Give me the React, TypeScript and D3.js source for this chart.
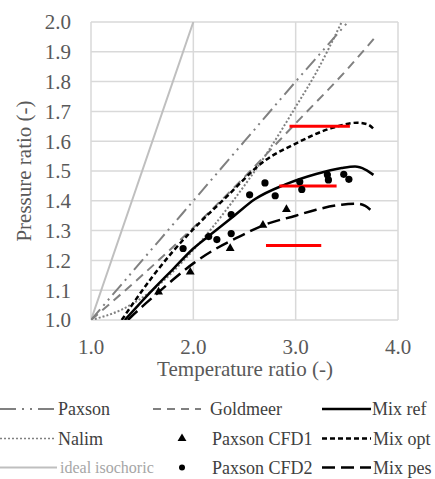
import React from 'react';
import * as d3 from 'd3';

const xTicks = [1.0, 2.0, 3.0, 4.0];
const yTicks = [1.0, 1.1, 1.2, 1.3, 1.4, 1.5, 1.6, 1.7, 1.8, 1.9, 2.0];

const idealIsochoric: [number, number][] = [[1.0, 1.0], [2.0, 2.0]];
const paxson: [number, number][] = [[1.0, 1.0], [1.5, 1.2], [2.0, 1.4], [2.5, 1.6], [3.0, 1.8], [3.51, 2.0]];
const goldmeer: [number, number][] = [[1.0, 1.0], [1.5, 1.15], [2.0, 1.31], [2.5, 1.48], [3.0, 1.66], [3.5, 1.84], [3.78, 1.95]];
const nalim: [number, number][] = [[1.0, 1.0], [1.3, 1.035], [1.6, 1.1], [2.0, 1.235], [2.4, 1.405], [2.7, 1.55], [3.0, 1.715], [3.2, 1.83], [3.45, 2.0]];
const mixRef: [number, number][] = [[1.33, 1.0], [1.45, 1.045], [1.6, 1.1], [1.8, 1.17], [2.0, 1.24], [2.2, 1.295], [2.4, 1.35], [2.6, 1.405], [2.9, 1.455], [3.2, 1.49], [3.45, 1.51], [3.58, 1.515], [3.68, 1.505], [3.76, 1.487]];
const mixOpt: [number, number][] = [[1.3, 1.0], [1.4, 1.05], [1.6, 1.145], [1.8, 1.23], [2.0, 1.305], [2.3, 1.405], [2.7, 1.535], [3.0, 1.592], [3.36, 1.645], [3.6, 1.662], [3.7, 1.657], [3.76, 1.642]];
const mixPes: [number, number][] = [[1.36, 1.0], [1.5, 1.045], [1.65, 1.09], [1.8, 1.135], [2.0, 1.19], [2.2, 1.235], [2.45, 1.28], [2.7, 1.32], [3.0, 1.35], [3.2, 1.37], [3.45, 1.387], [3.6, 1.39], [3.68, 1.383], [3.73, 1.37]];
const paxsonCFD1: [number, number][] = [[1.66, 1.094], [1.97, 1.161], [2.36, 1.24], [2.68, 1.318], [2.91, 1.371]];
const paxsonCFD2: [number, number][] = [[1.9, 1.24], [2.15, 1.28], [2.23, 1.27], [2.37, 1.29], [2.37, 1.354], [2.55, 1.42], [2.7, 1.46], [2.8, 1.417], [3.04, 1.464], [3.06, 1.438], [3.31, 1.487], [3.32, 1.47], [3.47, 1.489], [3.52, 1.472]];
const redLineP = [1.65, 1.45, 1.25];
const redLineT0 = [2.94, 2.84, 2.71];
const redLineT1 = [3.53, 3.40, 3.25];

const FONT = 'Liberation Serif';

function Txt(props: { x?: number; y?: number; size: number; fill: string; anchor?: string; transform?: string; children: string }) {
  return (
    <text
      x={props.x}
      y={props.y}
      dy="0.35em"
      transform={props.transform}
      textAnchor={props.anchor || 'start'}
      fontFamily={FONT}
      fontSize={props.size}
      fill={props.fill}
      style={{ fontFamily: `"${FONT}"` }}
    >
      {props.children}
    </text>
  );
}

export default function App() {
  const x = d3.scaleLinear().domain([1, 4]).range([91, 398]);
  const y = d3.scaleLinear().domain([1, 2]).range([320, 22]);
  const line = d3.line<[number, number]>().x(d => x(d[0])).y(d => y(d[1])).curve(d3.curveMonotoneX);
  const straight = d3.line<[number, number]>().x(d => x(d[0])).y(d => y(d[1]));
  const tri = d3.symbol().type(d3.symbolTriangle).size(34)() as string;

  const series = [
    { data: idealIsochoric, stroke: '#bfbfbf', w: 2, dash: undefined as string | undefined, gen: straight },
    { data: paxson, stroke: '#808080', w: 2, dash: '14,5,2,5,2,5', gen: line },
    { data: goldmeer, stroke: '#808080', w: 2, dash: '9,6', gen: line },
    { data: nalim, stroke: '#808080', w: 2, dash: '2,2', gen: line },
    { data: mixPes, stroke: '#000', w: 2.5, dash: '13,6', gen: line },
    { data: mixRef, stroke: '#000', w: 2.5, dash: undefined, gen: line },
    { data: mixOpt, stroke: '#000', w: 2.5, dash: '5,3', gen: line },
  ];

  const rowY = [409, 438.5, 467.5];
  const textCol = '#404040';
  const axisCol = '#595959';

  return (
    <svg width={435} height={479} style={{ position: 'absolute', left: 0, top: 0, fontFamily: `"${FONT}"` }}>
      <rect width={435} height={479} fill="#fff" />
      <defs>
        <clipPath id="plotclip">
          <rect x={x(1)} y={y(2)} width={x(4) - x(1)} height={y(1) - y(2)} />
        </clipPath>
      </defs>
      {yTicks.map(t => (
        <line key={'gy' + t} x1={x(1)} x2={x(4)} y1={y(t)} y2={y(t)} stroke="#d9d9d9" strokeWidth={1.5} />
      ))}
      {xTicks.map(t => (
        <line key={'gx' + t} x1={x(t)} x2={x(t)} y1={y(1)} y2={y(2)} stroke="#d9d9d9" strokeWidth={1.5} />
      ))}
      {yTicks.map(t => (
        <Txt key={'ty' + t} x={71} y={y(t)} anchor="end" size={21} fill={axisCol}>{t.toFixed(1)}</Txt>
      ))}
      {xTicks.map(t => (
        <Txt key={'tx' + t} x={x(t)} y={347} anchor="middle" size={21} fill={axisCol}>{t.toFixed(1)}</Txt>
      ))}
      <Txt x={245} y={369} anchor="middle" size={21} fill={axisCol}>Temperature ratio (-)</Txt>
      <Txt transform="translate(24,171) rotate(-90)" anchor="middle" size={21} fill={axisCol}>Pressure ratio (-)</Txt>
      <g clipPath="url(#plotclip)">
        {series.map((s, i) => (
          <path key={'s' + i} d={s.gen(s.data) as string} fill="none" stroke={s.stroke} strokeWidth={s.w} strokeDasharray={s.dash} />
        ))}
        {redLineP.map((p, i) => (
          <line key={'r' + i} x1={x(redLineT0[i])} x2={x(redLineT1[i])} y1={y(p)} y2={y(p)} stroke="#ff0000" strokeWidth={3} />
        ))}
        {paxsonCFD1.map((d, i) => (
          <path key={'c1' + i} d={tri} transform={`translate(${x(d[0])},${y(d[1])})`} fill="#000" />
        ))}
        {paxsonCFD2.map((d, i) => (
          <circle key={'c2' + i} cx={x(d[0])} cy={y(d[1])} r={3.6} fill="#000" />
        ))}
      </g>
      <line x1={0} x2={56} y1={rowY[0]} y2={rowY[0]} stroke="#808080" strokeWidth={2} strokeDasharray="16,6,2,6,2,6" />
      <Txt x={58} y={rowY[0]} size={18} fill={textCol}>Paxson</Txt>
      <line x1={0} x2={56} y1={rowY[1]} y2={rowY[1]} stroke="#808080" strokeWidth={1.5} strokeDasharray="2,2" />
      <Txt x={58} y={rowY[1]} size={18} fill={textCol}>Nalim</Txt>
      <line x1={0} x2={57} y1={rowY[2]} y2={rowY[2]} stroke="#bfbfbf" strokeWidth={2} />
      <Txt x={60} y={rowY[2]} size={16} fill="#a6a6a6">ideal isochoric</Txt>
      <line x1={153} x2={201} y1={rowY[0]} y2={rowY[0]} stroke="#808080" strokeWidth={2} strokeDasharray="8,6" />
      <Txt x={210} y={rowY[0]} size={18} fill={textCol}>Goldmeer</Txt>
      <path d={tri} transform={`translate(182,${rowY[1]})`} fill="#000" />
      <Txt x={212} y={rowY[1]} size={18} fill={textCol}>Paxson CFD1</Txt>
      <circle cx={182} cy={rowY[2]} r={3} fill="#000" />
      <Txt x={212} y={rowY[2]} size={18} fill={textCol}>Paxson CFD2</Txt>
      <line x1={322} x2={371} y1={rowY[0]} y2={rowY[0]} stroke="#000" strokeWidth={2.5} />
      <Txt x={372} y={rowY[0]} size={18} fill={textCol}>Mix ref</Txt>
      <line x1={322} x2={371} y1={rowY[1]} y2={rowY[1]} stroke="#000" strokeWidth={2.5} strokeDasharray="5,3" />
      <Txt x={373} y={rowY[1]} size={18} fill={textCol}>Mix opt</Txt>
      <line x1={322} x2={371} y1={rowY[2]} y2={rowY[2]} stroke="#000" strokeWidth={2.5} strokeDasharray="13,6" />
      <Txt x={373} y={rowY[2]} size={18} fill={textCol}>Mix pes</Txt>
    </svg>
  );
}
